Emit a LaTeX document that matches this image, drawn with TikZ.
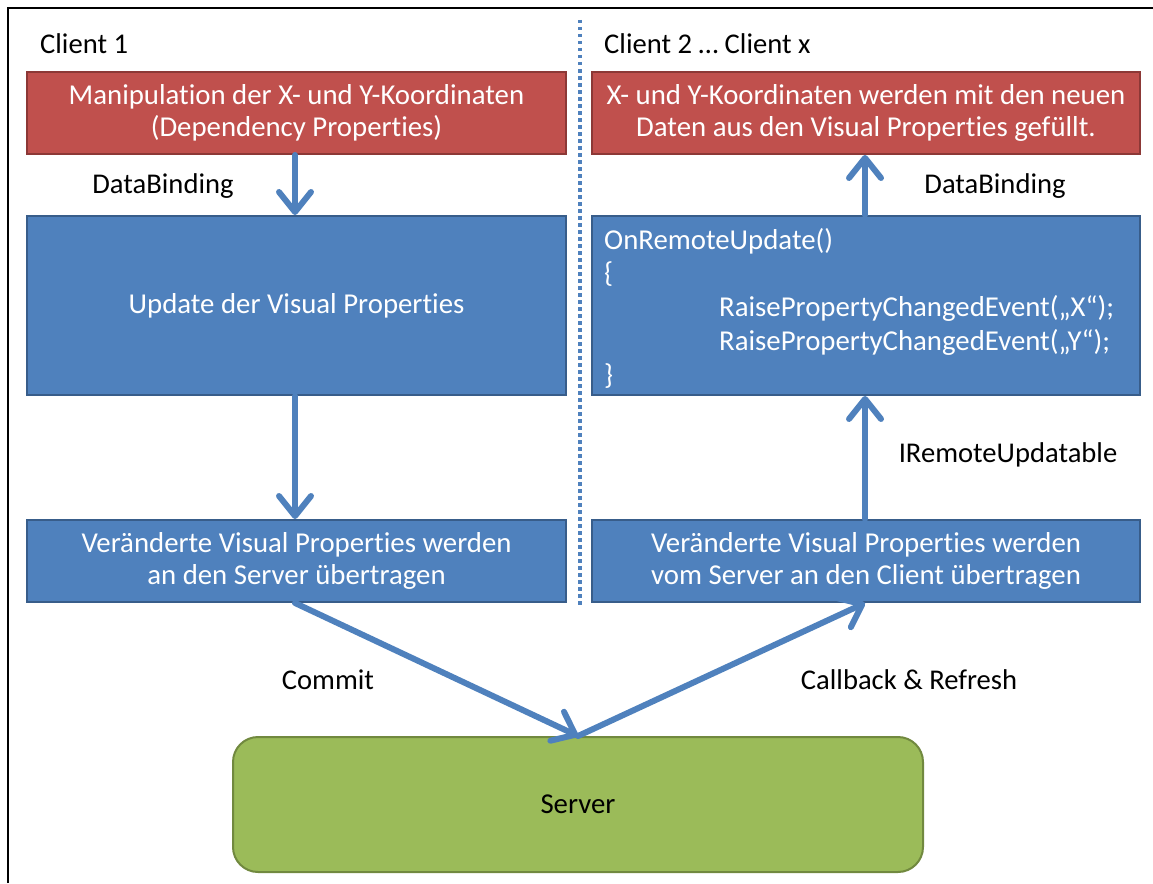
\documentclass[tikz,border=0pt]{standalone}
\usepackage{fontspec}
\setmainfont[Ligatures={NoCommon}]{Carlito}
\usetikzlibrary{arrows.meta}
\definecolor{boxred}{HTML}{C0504D}
\definecolor{boxredline}{HTML}{8C3836}
\definecolor{boxblue}{HTML}{4F81BD}
\definecolor{boxblueline}{HTML}{385D8A}
\definecolor{boxgreen}{HTML}{9BBB59}
\definecolor{boxgreenline}{HTML}{71893F}
\tikzset{
  base/.style={rectangle, line width=2pt, text=white, align=center, inner sep=0pt,
    font=\fontsize{28.8}{32.5}\selectfont},
  redbox/.style={base, fill=boxred, draw=boxredline},
  bluebox/.style={base, fill=boxblue, draw=boxblueline},
  serverbox/.style={base, fill=boxgreen, draw=boxgreenline, rounded corners=25pt, text=black},
  label/.style={font=\fontsize{28.6}{33}\selectfont, inner sep=0pt},
  flow/.style={draw=boxblue, line width=6pt, line cap=round,
    -{Straight Barb[length=20pt, width=32pt, line cap=round, line join=round]}},
}
\begin{document}
\begin{tikzpicture}[x=1pt, y=-1pt]
\useasboundingbox (0,0) rectangle (1153,883);
% outer frame (left and top edges)
\draw[line width=2pt] (8,883) -- (8,8) -- (1153,8);
% separator between the two client columns
\coordinate (septop) at (580,20);
\coordinate (sepbot) at (580,605);
\draw[boxblue, line width=3.5pt, dash pattern=on 3.5pt off 3.5pt] (septop) -- (sepbot);

% column headings
\node[label, anchor=west] (c1) at (40,44) {Client 1};
\node[label, anchor=west] (c2) at (604,44) {Client 2 \dots{} Client x};

% left column
\node[redbox, minimum width=539pt, minimum height=82pt] (manip) at (296.5,113)
  {Manipulation der X- und Y-Koordinaten\\(Dependency Properties)};
\node[bluebox, minimum width=539pt, minimum height=179pt] (upd) at (296.5,305.5)
  {Update der Visual Properties};
\node[bluebox, minimum width=539pt, minimum height=82pt] (sendL) at (296.5,561)
  {Veränderte Visual Properties werden\\an den Server übertragen};

% right column
\node[redbox, minimum width=548pt, minimum height=82pt] (fill) at (866,113)
  {X- und Y-Koordinaten werden mit den neuen\\Daten aus den Visual Properties gefüllt.};
\node[bluebox, minimum width=548pt, minimum height=179pt] (remote) at (866,305.5) {};
\node[bluebox, minimum width=548pt, minimum height=82pt] (sendR) at (866,561)
  {Veränderte Visual Properties werden\\vom Server an den Client übertragen};
\node[label, text=white, anchor=north west, align=left,
      font=\fontsize{28.8}{33.7}\selectfont] (code) at (604,228)
  {OnRemoteUpdate()\\
   \{\\
   \hspace*{115pt}RaisePropertyChangedEvent(„X“);\\
   \hspace*{115pt}RaisePropertyChangedEvent(„Y“);\\
   \}};

% server
\node[serverbox, minimum width=690pt, minimum height=135pt] (server) at (578,804.5) {Server};

% connectors
\draw[flow] (manip.south -| 295,0) -- (upd.north -| 295,0);
\draw[flow] (upd.south -| 295,0) -- (sendL.north -| 295,0);
\draw[flow] (sendL.south -| 295,0) -- (server.north);
\draw[flow] (server.north) -- (sendR.south -| 865,0);
\draw[flow] (sendR.north -| 865,0) -- (remote.south -| 865,0);
\draw[flow] (remote.north -| 865,0) -- (fill.south -| 865,0);

% connector labels
\node[label] (db1) at (163,186) {DataBinding};
\node[label] (db2) at (995,186) {DataBinding};
\node[label] (iru) at (1008,455) {IRemoteUpdatable};
\node[label] (commit) at (328,680) {Commit};
\node[label] (cb) at (909,680) {Callback \& Refresh};
\end{tikzpicture}
\end{document}
